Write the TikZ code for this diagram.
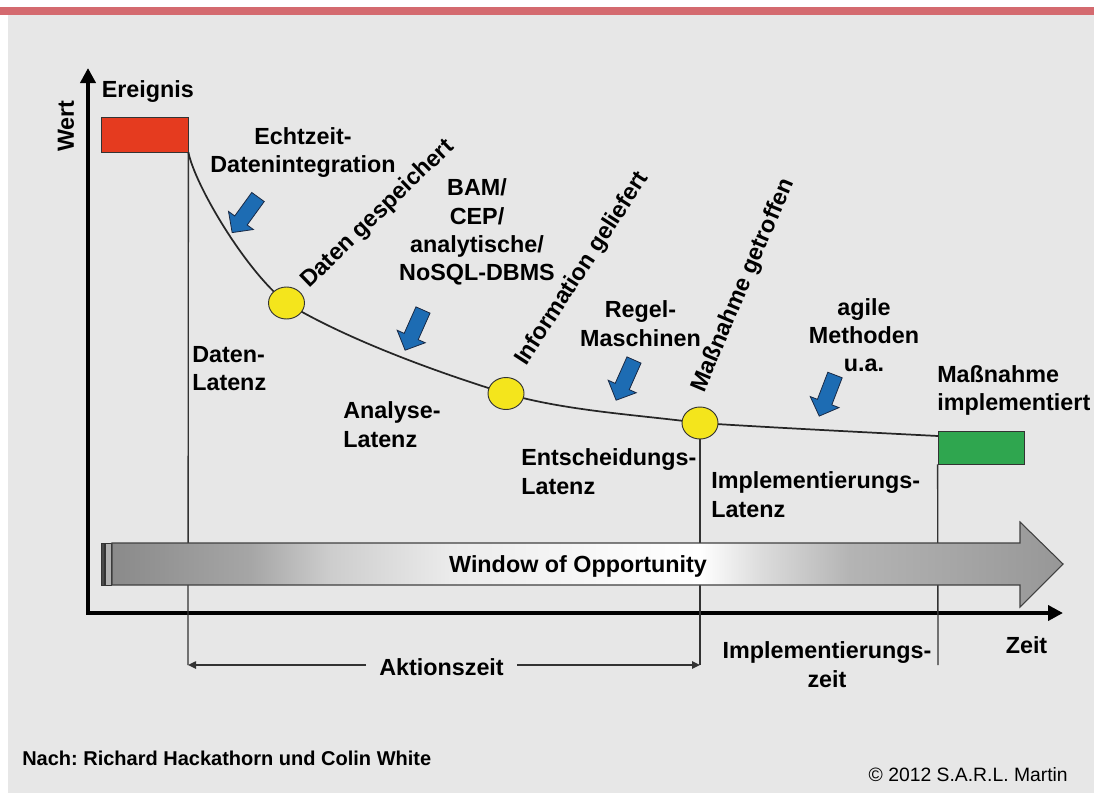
\documentclass[tikz,border=0pt]{standalone}
\usepackage{fontspec}
\setmainfont{Liberation Sans}
\usetikzlibrary{shapes.geometric,arrows.meta}
\frenchspacing
\definecolor{bg}{HTML}{E7E7E7}
\definecolor{topred}{HTML}{D46A6F}
\definecolor{evred}{HTML}{E53B1F}
\definecolor{okgreen}{HTML}{2FA64F}
\definecolor{dotyellow}{HTML}{F4E51C}
\definecolor{arrblue}{HTML}{1D6CB3}
\definecolor{arrblueedge}{HTML}{1A2A45}
\definecolor{linegray}{HTML}{333333}
\definecolor{ga}{HTML}{8A8A8A}
\definecolor{gb}{HTML}{A6A6A6}
\definecolor{gc}{HTML}{CDCDCD}
\definecolor{gd}{HTML}{EBEBEB}
\definecolor{ge}{HTML}{F8F8F8}
\definecolor{gf}{HTML}{DCDCDC}
\definecolor{gg}{HTML}{B4B4B4}
\definecolor{gh}{HTML}{979797}
\definecolor{stripdark}{HTML}{4A4A4A}
\definecolor{striplight}{HTML}{B0B0B0}
\pgfdeclarehorizontalshading{winshade}{100bp}{color(0bp)=(ga); color(25bp)=(ga); color(32.3bp)=(gb); color(36.5bp)=(gc); color(42.8bp)=(gd); color(50.7bp)=(ge); color(55.9bp)=(white); color(59.1bp)=(gf); color(63.8bp)=(gg); color(75bp)=(gh); color(100bp)=(gh)}
\tikzset{
  lbl/.style={font=\fontsize{17.5}{21.3}\selectfont\bfseries, inner sep=0pt, text=black},
  footbold/.style={font=\fontsize{15}{18}\selectfont\bfseries, inner sep=0pt},
  footreg/.style={font=\fontsize{14.5}{17}\selectfont, inner sep=0pt},
  evbox/.style={rectangle, minimum width=65.25pt, minimum height=26.25pt, inner sep=0pt, fill=evred, draw=linegray, line width=0.6pt},
  okbox/.style={rectangle, minimum width=64.5pt, minimum height=24.75pt, inner sep=0pt, fill=okgreen, draw=linegray, line width=0.6pt},
  yeldot/.style={ellipse, minimum width=27pt, minimum height=24pt, inner sep=0pt, fill=dotyellow, draw=linegray, line width=0.7pt},
  valcurve/.style={draw=black!85, line width=1.3pt},
  guideline/.style={draw=linegray, line width=1pt},
  axisline/.style={draw=black, line width=3pt, line join=miter, {Triangle[length=11.25pt,width=11.25pt]}-{Triangle[length=11.25pt,width=11.25pt]}},
  aktarrow/.style={draw=linegray, line width=1.1pt, -{Triangle[length=6pt,width=5.5pt]}},
  barrow/.style={fill=arrblue, draw=arrblueedge, line width=0.6pt, line join=miter},
  winout/.style={draw=black!75, line width=0.8pt},
  bluearrow/.pic={\draw[barrow] (0,-7.7) -- (29,-7.7) -- (29,-15.4) -- (44,0) -- (29,15.4) -- (29,7.7) -- (0,7.7) -- cycle;}
}
\begin{document}
\begin{tikzpicture}[x=0.75pt,y=-0.75pt]
\useasboundingbox (0,0) rectangle (1094,793);
% background
\fill[white] (0,0) rectangle (1094,793);
\fill[bg] (8,15) rectangle (1094,793);
\fill[topred] (0,7) rectangle (1094,15);
% coordinates
\coordinate (yt) at (88,68);
\coordinate (org) at (88,613);
\coordinate (xt) at (1063,613);
\coordinate (aL) at (188,665);
\coordinate (aR) at (700,665);
\coordinate (iz) at (938,665);
\coordinate (p1) at (286.5,303);
\coordinate (p2) at (506,393.5);
\coordinate (p3) at (700,423);
\coordinate (pe) at (938,436);
% axes
\draw[axisline] (yt) -- (org) -- (xt);
% boxes
\node[evbox] (ev) at (144.5,134.5) {};
\node[okbox] (ok) at (981,447.5) {};
% guide lines
\draw[guideline] (ev.south east) -- (aL);
\draw[guideline] (p3) -- (aR);
\draw[guideline] (ok.south west) -- (iz);
% Aktionszeit
\node[lbl, anchor=base, inner xsep=9.75pt] (akt) at (441.5,675) {Aktionszeit};
\draw[aktarrow] (akt.west |- aL) -- (aL);
\draw[aktarrow] (akt.east |- aR) -- (aR);
% window of opportunity arrow
\fill[stripdark, draw=black!80, line width=0.5pt] (101,543) rectangle (104.5,585);
\fill[striplight, draw=black!80, line width=0.5pt] (105.5,543) rectangle (111,585);
\shadedraw[shading=winshade, winout] (112,543) -- (1020,543) -- (1020,522) -- (1063,564) -- (1020,607) -- (1020,585) -- (112,585) -- cycle;
\node[lbl, anchor=base] (win) at (578,572) {Window of Opportunity};
% value curve
\draw[valcurve] (ev.south east) .. controls (195,185) and (245,270) .. (p1)
  .. controls (346,339) and (436,372) .. (p2)
  .. controls (566,411) and (640,415) .. (p3)
  .. controls (780,428) and (860,432) .. (pe);
\node[yeldot] (c1) at (p1) {};
\node[yeldot] (c2) at (p2) {};
\node[yeldot] (c3) at (p3) {};
% blue arrows
\pic[rotate=234] at (258,197) {bluearrow};
\pic[rotate=246] at (423,310) {bluearrow};
\pic[rotate=246] at (634,360) {bluearrow};
\pic[rotate=249] at (835,375) {bluearrow};
% labels
\node[lbl, rotate=90] (wert) at (66,126) {Wert};
\node[lbl, anchor=base west] (ereignis) at (101.5,97.5) {Ereignis};
\node[lbl, align=center, anchor=north] (echt) at (303,127) {Echtzeit-\\Datenintegration};
\node[lbl, align=center, anchor=north] (bam) at (477,178.5) {BAM/\\CEP/\\analytische/\\NoSQL-DBMS};
\node[lbl, align=center, anchor=north] (regel) at (640.5,300.5) {Regel-\\Maschinen};
\node[lbl, align=center, anchor=north] (agile) at (864,298) {agile\\Methoden\\u.a.};
\node[lbl, align=left, anchor=north west] (mimpl) at (937,365) {Maßnahme\\implementiert};
\node[lbl, align=left, anchor=north west] (dl) at (192,346) {Daten-\\Latenz};
\node[lbl, align=left, anchor=north west] (al) at (343,401.5) {Analyse-\\Latenz};
\node[lbl, align=left, anchor=north west] (el) at (521,448.5) {Entscheidungs-\\Latenz};
\node[lbl, align=left, anchor=north west] (il) at (711,471.5) {Implementierungs-\\Latenz};
\node[lbl, rotate=44, anchor=base west] (dg) at (309,289) {Daten gespeichert};
\node[lbl, rotate=57, anchor=base west] (ig) at (526,367) {Information geliefert};
\node[lbl, rotate=67, anchor=base west] (mg) at (704,394) {Maßnahme getroffen};
\node[lbl, anchor=base] (zeit) at (1026.5,653) {Zeit};
\node[lbl, align=center, anchor=north] (izeit) at (827,641.5) {Implementierungs-\\zeit};
% footer
\node[footbold, anchor=base west] (nach) at (22,765) {Nach: Richard Hackathorn und Colin White};
\node[footreg, anchor=base east] (copy) at (1068,781) {© 2012 S.A.R.L. Martin};
\end{tikzpicture}
\end{document}
